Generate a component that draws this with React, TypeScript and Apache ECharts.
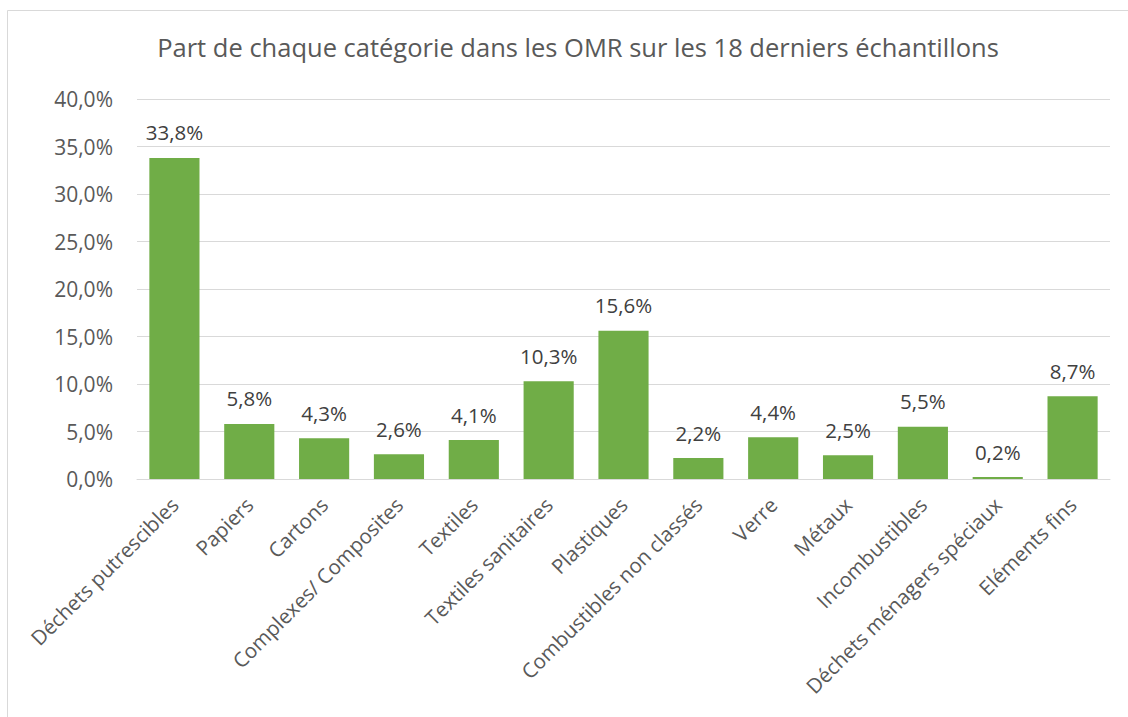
import React, { useEffect, useRef } from "react";
import * as echarts from "echarts";

const categories = [
  "Déchets putrescibles",
  "Papiers",
  "Cartons",
  "Complexes/ Composites",
  "Textiles",
  "Textiles sanitaires",
  "Plastiques",
  "Combustibles non classés",
  "Verre",
  "Métaux",
  "Incombustibles",
  "Déchets ménagers spéciaux",
  "Eléments fins",
];
const values = [33.8, 5.8, 4.3, 2.6, 4.1, 10.3, 15.6, 2.2, 4.4, 2.5, 5.5, 0.2, 8.7];
const yTicks = { min: 0, max: 40, interval: 5 };
const title = "Part de chaque catégorie dans les OMR sur les 18 derniers échantillons";

const fmt = (v: number) => v.toFixed(1).replace(".", ",") + "%";
const FONT = "'Open Sans', 'Noto Sans', sans-serif";

export default function App() {
  const ref = useRef<HTMLDivElement>(null);
  useEffect(() => {
    const chart = echarts.init(ref.current!, null, { renderer: "svg" });
    chart.setOption({
      animation: false,
      backgroundColor: "#ffffff",
      title: {
        text: title,
        left: 573,
        textAlign: "center",
        top: 29,
        textStyle: { fontFamily: FONT, fontSize: 25.5, fontWeight: "normal", color: "#595959" },
      },
      graphic: [
        {
          type: "rect",
          shape: { x: 7.5, y: 10.5, width: 1140, height: 740 },
          style: { fill: "none", stroke: "#d9d9d9", lineWidth: 1 },
          silent: true,
        },
      ],
      grid: { left: 137, right: 18, top: 99, bottom: 238, containLabel: false },
      xAxis: {
        type: "category",
        data: categories,
        axisLine: { lineStyle: { color: "#d9d9d9", width: 1 } },
        axisTick: { show: false },
        axisLabel: {
          rotate: 45,
          interval: 0,
          margin: 22,
          fontFamily: FONT,
          fontSize: 20.5,
          color: "#595959",
        },
      },
      yAxis: {
        type: "value",
        min: yTicks.min,
        max: yTicks.max,
        interval: yTicks.interval,
        axisLine: { show: false },
        axisTick: { show: false },
        splitLine: { lineStyle: { color: "#d9d9d9", width: 1 } },
        axisLabel: {
          formatter: (v: number) => fmt(v),
          margin: 24,
          fontFamily: FONT,
          fontSize: 21,
          color: "#595959",
        },
      },
      series: [
        {
          type: "bar",
          data: values,
          barCategoryGap: "33%",
          itemStyle: { color: "#70ad47" },
          label: {
            show: true,
            position: "top",
            distance: 15,
            formatter: (p: any) => fmt(p.value),
            fontFamily: FONT,
            fontSize: 20.5,
            color: "#404040",
          },
        },
      ],
    });
    return () => chart.dispose();
  }, []);
  return (
    <div
      ref={ref}
      style={{ position: "fixed", left: 0, top: 0, width: 1128, height: 717 }}
    />
  );
}
